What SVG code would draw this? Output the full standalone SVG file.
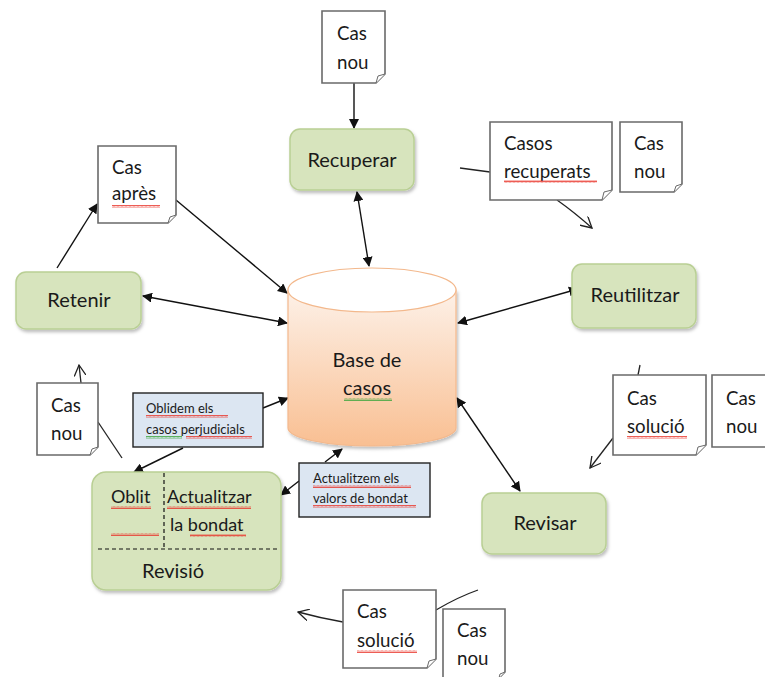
<svg xmlns="http://www.w3.org/2000/svg" width="765" height="677" viewBox="0 0 765 677">
<defs>
<style>
.t{font-family:Lato,"Liberation Sans",sans-serif;fill:#1a1a1a}
.big{font-size:20px}
.rv{font-size:18px}
.mid{font-size:18.7px}
.sm{font-size:13px}
.proc{fill:#d7e4bd;stroke:#b9cf94;stroke-width:1.5}
.note{fill:#fff;stroke:#6a6a6a;stroke-width:1.6}
.fold{fill:#fff;stroke:#6a6a6a;stroke-width:1}
.lbl{fill:#dce6f2;stroke:#222;stroke-width:1.4}
.c{fill:none;stroke:#111;stroke-width:1.4}
.h{fill:none;stroke:#222;stroke-width:1.3}
.dash{stroke:#111;stroke-width:1.2;stroke-dasharray:4 3}
</style>
<marker id="a" viewBox="0 0 10 10" refX="9" refY="5" markerWidth="10" markerHeight="10" markerUnits="userSpaceOnUse" orient="auto-start-reverse"><path d="M0,0 L10,5 L0,10 z" fill="#111"/></marker>
<marker id="o" viewBox="0 0 12 12" refX="11" refY="6" markerWidth="12" markerHeight="12" markerUnits="userSpaceOnUse" orient="auto"><path d="M0,0 L11,6 L0,12" fill="none" stroke="#222" stroke-width="1.3"/></marker>
<linearGradient id="cyl" x1="0" y1="0" x2="0" y2="1"><stop offset="0" stop-color="#fdf1e8"/><stop offset="1" stop-color="#f9bf92"/></linearGradient>
<filter id="sh" x="-10%" y="-10%" width="125%" height="130%"><feDropShadow dx="1.5" dy="2.5" stdDeviation="1.5" flood-color="#000" flood-opacity="0.25"/></filter>
<pattern id="sqR" width="4" height="3" patternUnits="userSpaceOnUse"><path d="M0,2.5 L1,0.5 L2,2.5 L3,0.5 L4,2.5" fill="none" stroke="#e8332a" stroke-width="0.8"/></pattern>
<pattern id="sqG" width="4" height="3" patternUnits="userSpaceOnUse"><path d="M0,2.5 L1,0.5 L2,2.5 L3,0.5 L4,2.5" fill="none" stroke="#3aa53a" stroke-width="0.8"/></pattern>
</defs>
<rect width="765" height="677" fill="#fff"/>

<g id="connectors">
<line class="c" x1="354" y1="83" x2="354" y2="128" marker-end="url(#a)"/>
<line class="c" x1="357" y1="192" x2="369" y2="266" marker-start="url(#a)" marker-end="url(#a)"/>
<line class="c" x1="57" y1="268" x2="97" y2="204" marker-end="url(#a)"/>
<line class="c" x1="176" y1="200" x2="287" y2="293" marker-end="url(#a)"/>
<line class="c" x1="143" y1="296" x2="287" y2="323" marker-start="url(#a)" marker-end="url(#a)"/>
<line class="c" x1="458" y1="323" x2="578" y2="289" marker-start="url(#a)" marker-end="url(#a)"/>
<line class="c" x1="457" y1="398" x2="520" y2="491" marker-start="url(#a)" marker-end="url(#a)"/>
<line class="c" x1="263" y1="408" x2="288" y2="398" marker-end="url(#a)"/>
<line class="c" x1="183" y1="448" x2="134" y2="472" marker-end="url(#a)"/>
<line class="c" x1="325" y1="462" x2="342" y2="449" marker-end="url(#a)"/>
<line class="c" x1="299" y1="481" x2="281" y2="495" marker-end="url(#a)"/>
<line class="h" x1="460" y1="168" x2="490" y2="172"/>
<path class="h" d="M557,200 Q574,212 592,228" marker-end="url(#o)"/>
<line class="h" x1="640" y1="365" x2="638" y2="375"/>
<path class="h" d="M613,438 Q603,451 590,468" marker-end="url(#o)"/>
<path class="h" d="M436,610 Q458,597 478,590"/>
<path class="h" d="M343,622 Q320,618 298,612" marker-end="url(#o)"/>
<line class="h" x1="81" y1="383" x2="79" y2="365" marker-end="url(#o)"/>
<line class="h" x1="98" y1="422" x2="122" y2="458"/>
</g>

<g id="cas-nou-top">
<path class="note" d="M322,11 H385 V74 L376,83 H322 Z"/>
<path class="fold" d="M385,74 L378,76 L376,83"/>
<text class="t mid" x="337" y="40">Cas</text>
<text class="t mid" x="337" y="69">nou</text>
</g>

<g id="recuperar">
<rect class="proc" x="290" y="129" width="124" height="61" rx="10" filter="url(#sh)"/>
<text class="t big" x="352" y="167" text-anchor="middle">Recuperar</text>
</g>

<g id="casos-recuperats">
<path class="note" d="M490,122 H612 V190 L602,200 H490 Z"/>
<path class="fold" d="M612,190 L604,192 L602,200"/>
<text class="t mid" x="504" y="150">Casos</text>
<text class="t mid" x="504" y="178">recuperats</text>
<rect x="504" y="180" width="93" height="3" fill="url(#sqR)"/>
</g>

<g id="cas-nou-right-top">
<path class="note" d="M620,122 H682 V184 L674,192 H620 Z"/>
<path class="fold" d="M682,184 L676,186 L674,192"/>
<text class="t mid" x="634" y="150">Cas</text>
<text class="t mid" x="634" y="178">nou</text>
</g>

<g id="cas-apres">
<path class="note" d="M98,146 H176 V215 L168,223 H98 Z"/>
<path class="fold" d="M176,215 L170,217 L168,223"/>
<text class="t mid" x="112" y="174">Cas</text>
<text class="t mid" x="112" y="200">après</text>
<rect x="112" y="205" width="48" height="3" fill="url(#sqR)"/>
</g>

<g id="retenir">
<rect class="proc" x="16" y="272" width="125" height="57" rx="10" filter="url(#sh)"/>
<text class="t big" x="79" y="307" text-anchor="middle">Retenir</text>
</g>

<g id="base-de-casos">
<path d="M288,290 V428 A84,18 0 0 0 456,428 V290 Z" fill="url(#cyl)" stroke="#f3b88c" stroke-width="1.2" filter="url(#sh)"/>
<ellipse cx="372" cy="290" rx="84" ry="22" fill="#fff" stroke="#f3b88c" stroke-width="1.2"/>
<text class="t big" x="367" y="367" text-anchor="middle">Base de</text>
<text class="t big" x="367" y="395" text-anchor="middle">casos</text>
<rect x="344" y="398" width="48" height="3" fill="url(#sqG)"/>
</g>

<g id="reutilitzar">
<rect class="proc" x="572" y="264" width="124" height="64" rx="10" filter="url(#sh)"/>
<text class="t big" x="635" y="302" text-anchor="middle">Reutilitzar</text>
</g>

<g id="cas-solucio-right">
<path class="note" d="M613,375 H706 V445 L696,455 H613 Z"/>
<path class="fold" d="M706,445 L698,447 L696,455"/>
<text class="t mid" x="627" y="405">Cas</text>
<text class="t mid" x="627" y="433">solució</text>
<rect x="627" y="436" width="60" height="3" fill="url(#sqR)"/>
</g>

<g id="cas-nou-right">
<path class="note" d="M712,375 H770 V447 H712 Z"/>
<text class="t mid" x="726" y="405">Cas</text>
<text class="t mid" x="726" y="433">nou</text>
</g>

<g id="revisar">
<rect class="proc" x="482" y="493" width="124" height="61" rx="10" filter="url(#sh)"/>
<text class="t big" x="545" y="530" text-anchor="middle">Revisar</text>
</g>

<g id="cas-solucio-bottom">
<path class="note" d="M343,590 H436 V659 L427,668 H343 Z"/>
<path class="fold" d="M436,659 L429,661 L427,668"/>
<text class="t mid" x="357" y="618">Cas</text>
<text class="t mid" x="357" y="647">solució</text>
<rect x="357" y="650" width="60" height="3" fill="url(#sqR)"/>
</g>

<g id="cas-nou-bottom">
<path class="note" d="M443,609 H505 V672 L499,678 H443 Z"/>
<path class="fold" d="M505,672 L500,674 L499,678"/>
<text class="t mid" x="457" y="637">Cas</text>
<text class="t mid" x="457" y="665">nou</text>
</g>

<g id="cas-nou-left">
<path class="note" d="M37,383 H98 V447 L90,455 H37 Z"/>
<path class="fold" d="M98,447 L92,449 L90,455"/>
<text class="t mid" x="51" y="412">Cas</text>
<text class="t mid" x="51" y="440">nou</text>
</g>

<g id="oblidem">
<rect class="lbl" x="133" y="393" width="130" height="54"/>
<text class="t sm" x="146" y="413">Oblidem els</text>
<text class="t sm" x="146" y="434">casos perjudicials</text>
<rect x="146" y="415" width="82" height="3" fill="url(#sqR)"/>
<rect x="146" y="436" width="36" height="3" fill="url(#sqG)"/>
<rect x="186" y="436" width="66" height="3" fill="url(#sqR)"/>
</g>

<g id="actualitzem">
<rect class="lbl" x="299" y="463" width="131" height="54"/>
<text class="t sm" x="313" y="483">Actualitzem els</text>
<text class="t sm" x="313" y="503">valors de bondat</text>
<rect x="313" y="485" width="98" height="3" fill="url(#sqR)"/>
<rect x="313" y="505" width="103" height="3" fill="url(#sqR)"/>
</g>

<g id="revisio">
<rect class="proc" x="92" y="472" width="189" height="118" rx="14" filter="url(#sh)"/>
<line class="dash" x1="164" y1="473" x2="164" y2="549"/>
<line class="dash" x1="98" y1="549" x2="280" y2="549"/>
<text class="t rv" x="111" y="503">Oblit</text>
<text class="t rv" x="167" y="503">Actualitzar</text>
<text class="t rv" x="170" y="531">la bondat</text>
<text class="t big" x="142" y="578">Revisió</text>
<rect x="111" y="506" width="40" height="3" fill="url(#sqR)"/>
<rect x="111" y="533" width="48" height="3" fill="url(#sqR)"/>
<rect x="167" y="506" width="84" height="3" fill="url(#sqR)"/>
<rect x="190" y="534" width="56" height="3" fill="url(#sqR)"/>
</g>
</svg>
